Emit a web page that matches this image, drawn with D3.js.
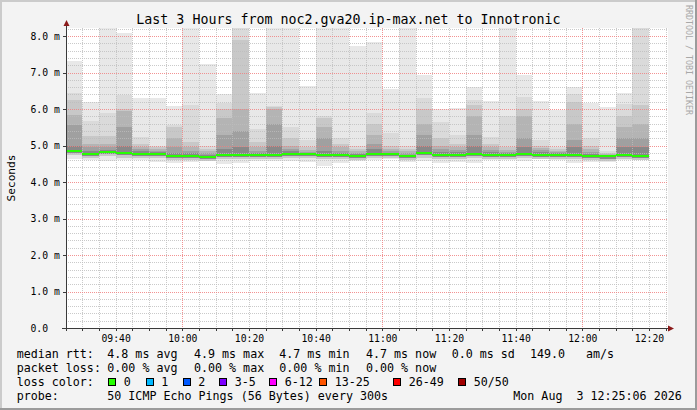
<!DOCTYPE html>
<html><head><meta charset="utf-8">
<script src="https://cdn.jsdelivr.net/npm/d3@7"></script>
<style>
html,body{margin:0;padding:0;background:#f3f3f3;}
svg{display:block;}
text{font-family:"DejaVu Sans Mono",monospace;white-space:pre;}
</style></head><body><div id="chart"></div>
<script>
// ---------------- data ----------------
const titleText = "Last 3 Hours from noc2.gva20.ip-max.net to Innotronic";
const dateStr = "2026-08-03";
const rangeStart = "09:25:06";
const rangeEnd = "12:25:06";
const barStarts = ["09:25","09:30","09:35","09:40","09:45","09:50","09:55",
  "10:00","10:05","10:10","10:15","10:20","10:25","10:30","10:35","10:40","10:45","10:50","10:55",
  "11:00","11:05","11:10","11:15","11:20","11:25","11:30","11:35","11:40","11:45","11:50","11:55",
  "12:00","12:05","12:10","12:15"];
const stepMinutes = 5;
// median rtt (ms)
const medianRtt = [4.85,4.77,4.82,4.79,4.77,4.77,4.72,4.72,4.69,4.75,4.75,4.75,4.75,4.77,4.77,4.75,4.75,4.72,4.77,4.77,4.72,4.79,4.75,4.75,4.77,4.75,4.75,4.77,4.75,4.75,4.75,4.72,4.70,4.75,4.72];
// smoke: upper edges from outermost (max) to innermost band (ms)
const maxRtt  = [7.32,6.19,8.30,8.07,6.30,6.30,6.08,8.30,7.23,6.41,8.30,6.45,8.30,8.30,6.63,8.30,8.30,7.73,7.84,6.56,8.30,6.94,6.01,6.03,6.60,6.23,8.30,6.94,6.23,5.97,6.60,6.17,6.06,6.45,8.30];
const upper2  = [6.44,5.66,5.89,6.38,5.24,5.00,5.56,6.10,5.00,6.16,8.30,5.45,6.08,5.50,5.15,5.80,5.20,5.00,5.90,5.35,5.00,6.30,5.65,5.30,6.25,5.24,5.80,6.34,5.15,4.95,6.40,5.20,4.85,6.14,8.30];
const upper3  = [6.25,5.25,5.25,6.00,5.05,4.95,5.50,5.10,4.90,6.00,7.90,5.10,6.05,5.20,4.95,5.75,5.05,4.90,5.60,5.00,4.90,6.00,5.20,5.05,6.10,5.05,4.95,6.00,5.00,4.90,6.20,5.00,4.80,5.80,6.10];
const upper4  = [5.84,5.05,5.05,5.95,4.95,4.90,5.20,4.95,4.85,5.75,6.00,4.95,6.00,5.00,4.88,5.50,4.95,4.85,5.30,4.90,4.85,5.60,5.00,4.95,5.80,4.95,4.88,5.80,4.92,4.85,5.60,4.90,4.77,5.50,5.60];
const upper5  = [5.56,4.95,4.95,5.50,4.90,4.85,4.95,4.85,4.80,5.30,5.40,4.85,5.60,4.90,4.83,5.20,4.85,4.80,5.05,4.85,4.80,5.30,4.90,4.88,5.30,4.87,4.83,5.20,4.87,4.82,5.15,4.83,4.75,5.20,5.20];
const upper6  = [5.00,4.85,4.88,5.00,4.85,4.82,4.80,4.80,4.75,4.90,4.95,4.80,5.00,4.85,4.80,4.85,4.80,4.76,4.90,4.80,4.75,5.00,4.82,4.82,5.00,4.82,4.80,4.95,4.82,4.80,4.95,4.78,4.72,4.95,4.95];
// smoke: lower edges (ms)
const minRtt   = [4.63,4.60,4.58,4.60,4.60,4.56,4.53,4.56,4.57,4.50,4.53,4.57,4.58,4.58,4.56,4.45,4.51,4.57,4.60,4.62,4.56,4.57,4.51,4.56,4.51,4.60,4.60,4.57,4.62,4.59,4.51,4.56,4.56,4.59,4.59];
const lowOuter = [4.73,4.65,4.70,4.67,4.65,4.65,4.60,4.60,4.57,4.63,4.63,4.63,4.63,4.65,4.65,4.63,4.63,4.60,4.65,4.65,4.60,4.67,4.63,4.63,4.65,4.63,4.63,4.65,4.63,4.63,4.63,4.60,4.58,4.63,4.60];
const lowInner = [4.79,4.71,4.76,4.73,4.71,4.71,4.66,4.66,4.63,4.69,4.69,4.69,4.69,4.71,4.71,4.69,4.69,4.66,4.71,4.71,4.66,4.73,4.69,4.69,4.71,4.69,4.69,4.71,4.69,4.69,4.69,4.66,4.64,4.69,4.66];

const yTickValues = [0,1,2,3,4,5,6,7,8];
const yTickLabels = ["0.0","1.0 m","2.0 m","3.0 m","4.0 m","5.0 m","6.0 m","7.0 m","8.0 m"];
const xTickLabels = ["09:40","10:00","10:20","10:40","11:00","11:20","11:40","12:00","12:20"];
const xMajorGrid = ["10:00","11:00","12:00"];
const yMax = 8.22;

const legendRows = [
  [["median rtt:",16.7],["4.8 ms avg",107.3],["4.9 ms max",194],["4.7 ms min",279.3],["4.7 ms now",366],["0.0 ms sd",451.7],["149.0",530],["am/s",586]],
  [["packet loss:",16.7],["0.00 % avg",107.3],["0.00 % max",194],["0.00 % min",279.3],["0.00 % now",366]],
  [["loss color:",16.7]],
  [["probe:",16.7],["50 ICMP Echo Pings (56 Bytes) every 300s",107.3],["Mon Aug  3 12:25:06 2026",513.3]]
];
const lossLabels = ["0","1","2","3-5","6-12","13-25","26-49","50/50"];
const lossColors = ["#26ff00","#00b8ff","#0059ff","#7e00ff","#ff00ff","#ff5500","#ff0000","#a10000"];
const lossBoxX = [108.3,145.7,182.7,219.3,269.3,319.3,393.3,458.3];

// ---------------- drawing ----------------
const W = 697, H = 410;
const plot = {x0: 66, x1: 666, y0: 28, y1: 328};
const parse = d3.timeParse("%Y-%m-%d %H:%M:%S");
const x = d3.scaleTime()
  .domain([parse(dateStr+" "+rangeStart), parse(dateStr+" "+rangeEnd)])
  .range([plot.x0, plot.x1]);
const y = d3.scaleLinear().domain([0, yMax]).range([plot.y1, plot.y0]);

const svg = d3.select("#chart").append("svg").attr("width", W).attr("height", H);
const defs = svg.append("defs");
svg.append("rect").attr("width", W).attr("height", H).attr("fill", "#f3f3f3");
// frame
svg.append("rect").attr("x",0).attr("y",0).attr("width",W).attr("height",2).attr("fill","#cbcbcb");
svg.append("rect").attr("x",0).attr("y",0).attr("width",2).attr("height",H).attr("fill","#cbcbcb");
svg.append("rect").attr("x",0).attr("y",H-2).attr("width",W).attr("height",2).attr("fill","#9b9b9b");
svg.append("rect").attr("x",W-2).attr("y",0).attr("width",2).attr("height",H).attr("fill","#9b9b9b");

defs.append("clipPath").attr("id","clip").append("rect")
  .attr("x",plot.x0).attr("y",plot.y0).attr("width",plot.x1-plot.x0).attr("height",plot.y1-plot.y0);
svg.append("rect").attr("x",plot.x0).attr("y",plot.y0).attr("width",plot.x1-plot.x0+2)
  .attr("height",plot.y1-plot.y0).attr("fill","#ffffff");

const bars = barStarts.map((s,i) => {
  const t0 = parse(dateStr+" "+s+":00");
  return {i, t0, t1: d3.timeMinute.offset(t0, stepMinutes)};
});

const smokeColors = ["#e8e8e8","#dadada","#c8c8c8","#b4b4b4","#a0a0a0","#888888"];
const smokeTop = [maxRtt, upper2, upper3, upper4, upper5, upper6];
const smokeBottom = [minRtt, lowOuter, lowOuter, lowInner, lowInner, lowInner];

const gData = svg.append("g").attr("clip-path","url(#clip)").attr("shape-rendering","crispEdges");
smokeColors.forEach((c, L) => {
  gData.append("g").selectAll("rect").data(bars).join("rect")
    .attr("x", d => Math.round(x(d.t0)))
    .attr("width", d => Math.round(x(d.t1)) - Math.round(x(d.t0)))
    .attr("y", d => Math.round(y(smokeTop[L][d.i])))
    .attr("height", d => Math.round(y(smokeBottom[L][d.i])) - Math.round(y(smokeTop[L][d.i])))
    .attr("fill", c);
});

// grid: dotted lines built from 1x1 pixel squares (1 on / 1 off)
function vDots(px) {
  let s = "";
  for (let yy = plot.y0; yy < plot.y1; yy += 2) s += `M${px},${yy}h1v1h-1z`;
  return s;
}
function hDots(py) {
  let s = "";
  for (let xx = plot.x0; xx < plot.x1 + 2; xx += 2) s += `M${xx},${py}h1v1h-1z`;
  return s;
}
const minorCol = "#bdbdbd", majorCol = "#f08080";
const majorXd = xMajorGrid.map(s => parse(dateStr+" "+s+":00"));
const majorXpx = majorXd.map(d => Math.round(x(d)));
const minorY = d3.range(1, Math.floor(yMax/0.2)+1).map(k => k*0.2).filter(v => Math.abs(v-Math.round(v))>1e-6);
const minorX = x.ticks(d3.timeMinute.every(5)).filter(d => !majorXpx.includes(Math.round(x(d))));

const gGrid = svg.append("g").attr("shape-rendering","crispEdges");
gGrid.append("g").selectAll("path").data(minorY).join("path")
  .attr("d", d => hDots(Math.round(y(d)))).attr("fill", minorCol).attr("fill-opacity",0.8);
gGrid.append("g").selectAll("path").data(minorX).join("path")
  .attr("d", d => vDots(Math.round(x(d)))).attr("fill", minorCol).attr("fill-opacity",0.8);
gGrid.append("g").selectAll("path").data(yTickValues.slice(1)).join("path")
  .attr("d", d => hDots(Math.round(y(d)))).attr("fill", majorCol).attr("fill-opacity",0.85);
gGrid.append("g").selectAll("path").data(majorXd).join("path")
  .attr("d", d => vDots(Math.round(x(d)))).attr("fill", majorCol).attr("fill-opacity",0.85);

// median line (loss colour 0)
svg.append("g").attr("clip-path","url(#clip)").attr("shape-rendering","crispEdges")
  .selectAll("rect").data(bars).join("rect")
  .attr("x", d => Math.round(x(d.t0))).attr("width", d => Math.round(x(d.t1)) - Math.round(x(d.t0)))
  .attr("y", d => Math.round(y(medianRtt[d.i])) - 1).attr("height", 2)
  .attr("fill", lossColors[0]);

// axes
const allMinorX = x.ticks(d3.timeMinute.every(5));
const gAx = svg.append("g").attr("shape-rendering","crispEdges");
gAx.append("rect").attr("x",plot.x0).attr("width",1).attr("y",plot.y0-4).attr("height",plot.y1-plot.y0+7)
  .attr("fill","#3a3a3a");
gAx.append("rect").attr("x",plot.x0-4).attr("width",plot.x1-plot.x0+7).attr("y",plot.y1).attr("height",1)
  .attr("fill","#3a3a3a");
gAx.selectAll("rect.tx").data(allMinorX).join("rect").attr("class","tx")
  .attr("x",d=>Math.round(x(d))).attr("width",1)
  .attr("y",plot.y1+1).attr("height",2).attr("fill","#3a3a3a");
gAx.selectAll("rect.ty").data(yTickValues).join("rect").attr("class","ty")
  .attr("x",plot.x0-3).attr("width",3)
  .attr("y",d=>Math.round(y(d))).attr("height",1).attr("fill","#3a3a3a");
// arrows
svg.append("path").attr("d",`M${plot.x0+0.5},${plot.y0-8} L${plot.x0+3.5},${plot.y0-2} L${plot.x0-2.5},${plot.y0-2} Z`).attr("fill","#8b1a1a");
svg.append("path").attr("d",`M${plot.x1+8},${plot.y1+0.5} L${plot.x1+2},${plot.y1-2.5} L${plot.x1+2},${plot.y1+3.5} Z`).attr("fill","#8b1a1a");

// tick labels
const labelX = xTickLabels.map(s => parse(dateStr+" "+s+":00"));
svg.append("g").selectAll("text").data(yTickValues).join("text")
  .attr("x", 30.5).attr("y", d => y(d) + 3.6)
  .attr("font-size","9.75px").attr("fill","#000")
  .text((d,i) => yTickLabels[i]);
svg.append("g").selectAll("text").data(labelX).join("text")
  .attr("x", d => x(d) + 0.5).attr("y", 342).attr("text-anchor","middle")
  .attr("font-size","9.75px").attr("fill","#000")
  .text((d,i) => xTickLabels[i]);

// title
svg.append("text").attr("x", W/2).attr("y", 23.5).attr("text-anchor","middle")
  .attr("font-size","13.3px").attr("fill","#000").text(titleText);
// y label
svg.append("text").attr("transform", `translate(15,${(plot.y0+plot.y1)/2}) rotate(-90)`)
  .attr("text-anchor","middle").attr("font-size","11.2px").attr("fill","#000").text("Seconds");
// watermark
svg.append("text").attr("transform", `translate(685.5,5) rotate(90)`)
  .attr("font-size","8.3px").attr("fill","#a8a8a8").text("RRDTOOL / TOBI OETIKER");

// legend
const baselines = [358, 372, 386, 400];
legendRows.forEach((row, r) => {
  svg.append("g").selectAll("text").data(row).join("text")
    .attr("x", d => d[1]).attr("y", baselines[r])
    .attr("font-size","11.66px").attr("fill","#000")
    .text(d => d[0]);
});
const gLoss = svg.append("g");
gLoss.selectAll("rect").data(lossColors).join("rect")
  .attr("x", (d,i) => lossBoxX[i] + 0.5).attr("y", 378.5).attr("width", 7).attr("height", 7)
  .attr("fill", d => d).attr("stroke","#000").attr("stroke-width",1).attr("shape-rendering","crispEdges");
gLoss.selectAll("text").data(lossLabels).join("text")
  .attr("x", (d,i) => lossBoxX[i] + 15.5).attr("y", baselines[2])
  .attr("font-size","11.66px").attr("fill","#000").text(d => d);
</script></body></html>
